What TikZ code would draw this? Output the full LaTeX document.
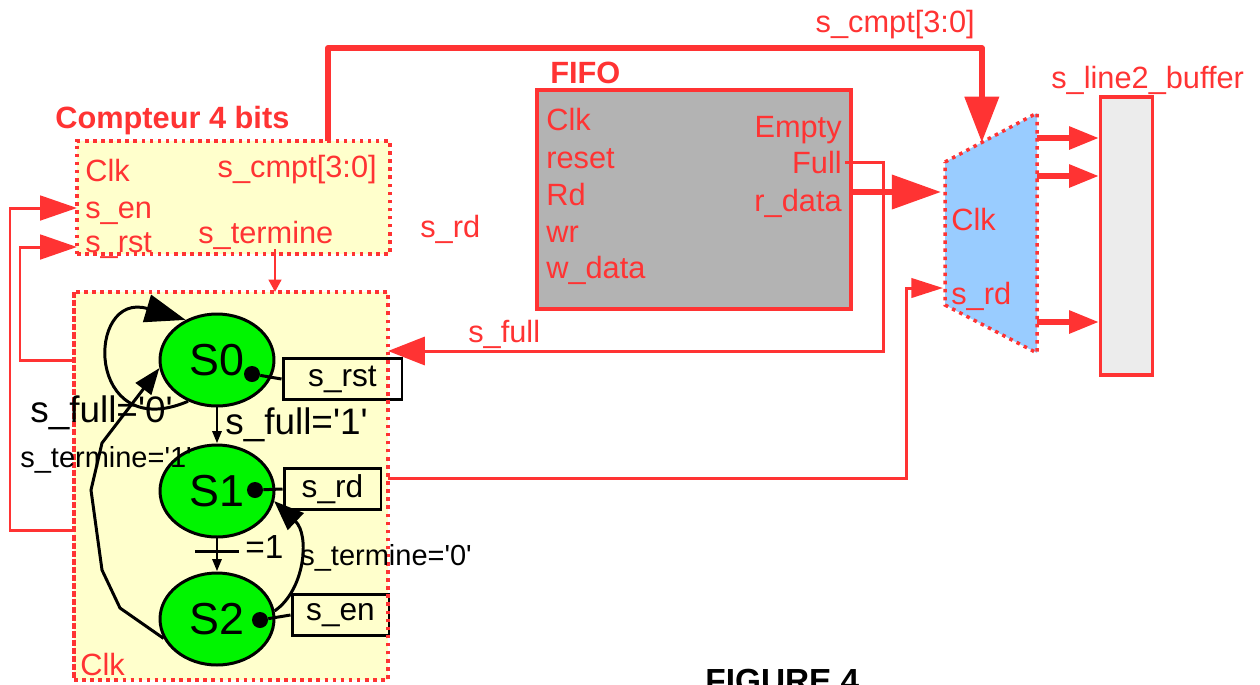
\documentclass[tikz,border=0pt]{standalone}
\usepackage{fontspec}
\setmainfont{Liberation Sans}
\usepackage{tikz}
\usetikzlibrary{shapes.geometric, arrows.meta, positioning, calc}
\definecolor{sigred}{RGB}{255,51,51}
\definecolor{boxyellow}{RGB}{255,255,204}
\definecolor{fifogray}{RGB}{179,179,179}
\definecolor{muxblue}{RGB}{153,204,255}
\definecolor{bufgray}{RGB}{236,236,236}
\definecolor{stgreen}{RGB}{0,245,0}
\newcommand{\lblfont}{\fontsize{17.5}{20}\selectfont}
\newcommand{\stfont}{\fontsize{25.5}{28}\selectfont}
\newcommand{\boxfont}{\fontsize{18}{20}\selectfont}
\newcommand{\condfont}{\fontsize{21}{24}\selectfont}
\newcommand{\smcondfont}{\fontsize{16.5}{19}\selectfont}
\newcommand{\eqfont}{\fontsize{19}{22}\selectfont}
\newcommand{\figfont}{\fontsize{19}{22}\selectfont\bfseries}
\newcommand{\sqt}{\textquotesingle}

\begin{document}
\begin{tikzpicture}[x=0.02cm, y=-0.02cm,
  dotbox/.style={rectangle, draw=sigred, fill=boxyellow, line width=2pt, dash pattern=on 2pt off 2.6pt, inner sep=0pt, outer sep=0pt},
  dotline/.style={draw=sigred, line width=2pt, dash pattern=on 2pt off 2.6pt},
  fifobox/.style={rectangle, draw=sigred, fill=fifogray, line width=1.8pt, inner sep=0pt},
  bufbox/.style={rectangle, draw=sigred, fill=bufgray, line width=1.8pt, inner sep=0pt, minimum width=1.04cm, minimum height=5.56cm},
  muxline/.style={draw=sigred, fill=muxblue, line width=2pt, dash pattern=on 2pt off 2.6pt},
  fsmstate/.style={ellipse, draw=black, fill=stgreen, line width=1.7pt, minimum width=2.28cm, minimum height=1.84cm, inner sep=0pt, font=\stfont},
  outbox/.style={rectangle, draw=black, line width=1.7pt, minimum height=0.82cm, inner sep=0pt, font=\boxfont},
  statedot/.style={circle, fill=black, minimum size=0.32cm, inner sep=0pt},
  lbl/.style={text=sigred, font=\lblfont, inner sep=0pt, anchor=base west},
  cond/.style={text=black, font=\condfont, inner sep=0pt, anchor=base west},
  sig/.style={draw=sigred, line width=1.7pt},
  bus/.style={draw=sigred, line width=3.4pt, line join=round},
  trans/.style={draw=black, line width=1.7pt}
]
\useasboundingbox (0,0) rectangle (1260,684);

% Compteur 4 bits
\node[dotbox, minimum width=6.26cm, minimum height=2.26cm] (cnt) at (233.5,197.5) {};
\node[lbl, font=\lblfont\bfseries] (cnttitle) at (55,128) {Compteur 4 bits};
\node[lbl] (cclk) at (85,181) {Clk};
\node[lbl] (cen) at (85,218) {s\_en};
\node[lbl] (crst) at (85,252) {s\_rst};
\node[lbl, anchor=base east] (ccmpt) at (377,177) {s\_cmpt[3:0]};
\node[lbl] (cterm) at (198,243) {s\_termine};

% machine d'etats
\node[dotbox, minimum width=6.28cm, minimum height=7.76cm] (fsm) at (231,486) {};
\node[lbl] (fclk) at (80,675) {Clk};

% FIFO
\node[fifobox, minimum width=6.28cm, minimum height=4.38cm] (fifo) at (694,199.5) {};
\node[lbl, font=\lblfont\bfseries] (fifotitle) at (550,83) {FIFO};
\foreach \txt/\yy [count=\i] in {Clk/130, reset/168, Rd/205, wr/242, w\_data/278}
  \node[lbl] (fin\i) at (546,\yy) {\txt};
\node[lbl, anchor=base east] (fempty) at (842,137) {Empty};
\node[lbl, anchor=base east] (ffull) at (842,173) {Full};
\node[lbl, anchor=base east] (frdata) at (842,211) {r\_data};

% mux
\coordinate (mtl) at (945,162);
\coordinate (mtr) at (1037,113);
\coordinate (mbr) at (1037,353);
\coordinate (mbl) at (945,305);
\draw[muxline] (mtl) -- (mtr) -- (mbr) -- (mbl) -- cycle;
\node[lbl] (mclk) at (951,230) {Clk};
\node[lbl] (mrd) at (951,304) {s\_rd};

% buffer
\node[bufbox] (buf) at (1126.5,236) {};
\node[lbl] (buflbl) at (1051,88) {s\_line2\_buffer};

% bus s_cmpt
\coordinate (busup) at (328,48);
\coordinate (muxtop) at ($(mtl)!0.4!(mtr)$);
\draw[bus, -{Triangle[length=26pt,width=19pt]}] (busup |- cnt.north) -- (busup) -| (muxtop);
\node[lbl, anchor=base east] (buslbl) at (975,32) {s\_cmpt[3:0]};

% r_data
\coordinate (muxdin) at (941,192);
\draw[bus, -{Triangle[length=28pt,width=19pt]}] (fifo.east |- muxdin) -- (muxdin);

% Full -> s_full
\coordinate (fullbend) at (883,351);
\draw[sig, -{Triangle[length=21pt,width=16pt]}] ($(ffull.east)+(3,0)$) -| (fullbend) -- (fullbend -| fsm.east);
\node[lbl] (fulllbl) at (468,342) {s\_full};

% s_rd
\coordinate (rdbend) at (906,478);
\coordinate (muxrdin) at (943,288);
\draw[sig, -{Triangle[length=18pt,width=11pt]}] (rdbend -| fsm.east) -- (rdbend) |- (muxrdin);
\node[lbl] (rdlbl) at (420,237) {s\_rd};

% sorties mux
\foreach \yy in {138,176,322}
  \draw[bus, -{Triangle[length=17pt,width=12.5pt]}] (mtr |- 0,\yy) -- (buf.west |- 0,\yy);

% retours vers le compteur
\coordinate (enleft) at (10,530);
\coordinate (rstleft) at (20,360);
\draw[sig, -{Triangle[length=21pt,width=14pt]}] (enleft -| fsm.west) -- (enleft) |- (cnt.west |- 0,208);
\draw[sig, -{Triangle[length=21pt,width=14pt]}] (rstleft -| fsm.west) -- (rstleft) |- (cnt.west |- 0,247);
\draw[sig, -{Triangle[length=7pt,width=7pt]}] (cterm.south -| 275,0) -- (fsm.north -| 275,0);

% etats
\node[fsmstate] (s0) at (217,360) {S0};
\node[fsmstate] (s1) at (217,491) {S1};
\node[fsmstate] (s2) at (217,619) {S2};
\draw[trans, -{Triangle[length=7pt,width=5pt]}] (s0) -- (s1);
\draw[trans, -{Triangle[length=7pt,width=5pt]}] (s1) -- (s2);
\draw[trans] ($(s1.south)!0.4!(s2.north)$) coordinate (tick) +(-22,0) -- +(22,0);
\draw[trans, -{Triangle[length=23pt,width=16pt]}] (s0.235) .. controls (85,445) and (85,290) .. (s0.128);
\draw[trans, -{Triangle[length=15pt,width=11pt]}] (s2.200) -- (120,608) -- (102,570) -- (91,490) -- (102,443) -- (s0.188);
\draw[trans, -{Triangle[length=17pt,width=13pt]}] (s2.8) .. controls (305,590) and (310,535) .. (s1.-10);

% sorties des etats
\node[statedot] (d0) at (252,374) {};
\node[statedot] (d1) at (255,490) {};
\node[statedot] (d2) at (260,620) {};
\node[outbox, minimum width=2.38cm] (orst) at (342.5,379) {s\_rst};
\node[outbox, minimum width=1.94cm] (ord) at (332.5,489) {s\_rd};
\node[outbox, minimum width=1.94cm] (oen) at (340.5,615) {s\_en};
\draw[trans] (d0) -- (orst.west);
\draw[trans] (d1) -- (ord.west);
\draw[trans] (d2) -- (oen.west);
\draw[dotline] (fsm.north west) rectangle (fsm.south east);

% conditions
\node[cond] (lf0) at (30,422) {s\_full=\sqt0\sqt};
\node[cond] (lf1) at (225,434) {s\_full=\sqt1\sqt};
\node[cond, font=\smcondfont] (lt1) at (20,467) {s\_termine=\sqt1\sqt};
\node[cond, font=\smcondfont] (lt0) at (300,565) {s\_termine=\sqt0\sqt};
\node[cond, font=\eqfont] (leq) at (245,558) {=1};

\node[anchor=base west, font=\figfont, inner sep=0pt] (fig) at (705,692) {FIGURE 4};
\end{tikzpicture}
\end{document}
